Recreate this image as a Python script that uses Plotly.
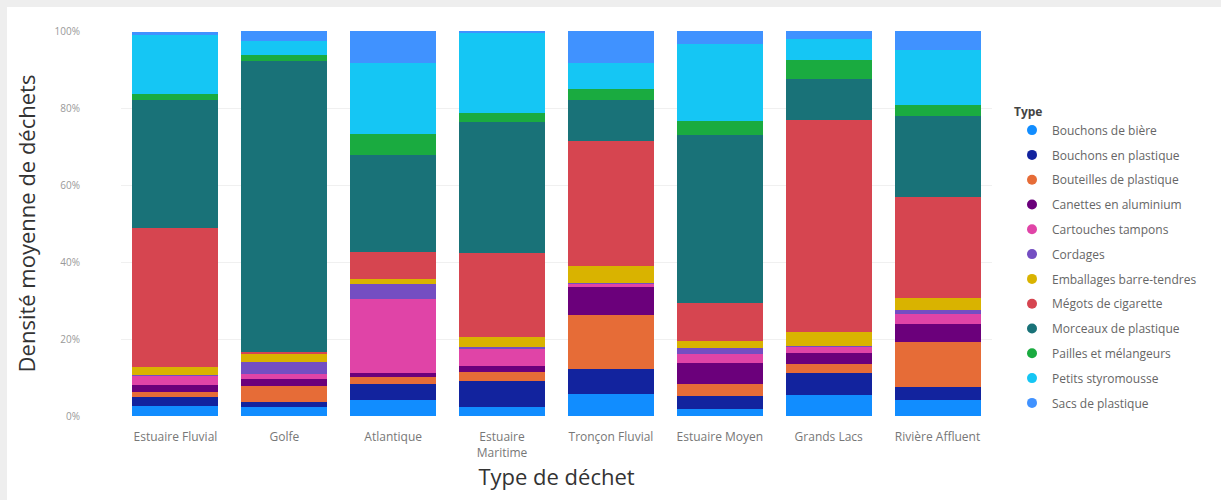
import plotly.graph_objects as go

categories = ["Estuaire Fluvial", "Golfe", "Atlantique", "Estuaire<br>Maritime",
              "Tronçon Fluvial", "Estuaire Moyen", "Grands Lacs", "Rivière Affluent"]

types = ["Bouchons de bière", "Bouchons en plastique", "Bouteilles de plastique",
         "Canettes en aluminium", "Cartouches tampons", "Cordages",
         "Emballages barre-tendres", "Mégots de cigarette", "Morceaux de plastique",
         "Pailles et mélangeurs", "Petits styromousse", "Sacs de plastique"]

colors = ["#118DFF", "#12239E", "#E66C37", "#6B007B", "#E044A7", "#744EC2",
          "#D9B300", "#D64550", "#197278", "#1AAB40", "#15C6F4", "#4092FF"]

y_tickvals = [0, 20, 40, 60, 80, 100]
y_ticktext = ["0%", "20%", "40%", "60%", "80%", "100%"]

# percentage share of each type per category (same order as categories)
bouchons_biere = [2.6, 2.3, 4.1, 2.3, 5.8, 1.9, 5.4, 4.1]
bouchons_plastique = [2.3, 1.3, 4.1, 6.7, 6.5, 3.2, 5.8, 3.5]
bouteilles_plastique = [1.3, 4.2, 2.0, 2.4, 13.9, 3.1, 2.4, 11.7]
canettes_aluminium = [1.9, 1.9, 1.0, 1.7, 7.2, 5.5, 2.8, 4.6]
cartouches_tampons = [2.3, 1.3, 19.1, 4.3, 0.9, 2.4, 1.7, 2.5]
cordages = [0.35, 3.0, 3.9, 0.6, 0.3, 1.6, 0.1, 1.1]
emballages = [1.9, 2.2, 1.3, 2.6, 4.4, 1.9, 3.5, 3.2]
megots = [36.2, 0.4, 7.0, 21.8, 32.4, 9.7, 55.3, 26.1]
morceaux_plastique = [33.1, 75.6, 25.3, 34.0, 10.7, 43.6, 10.6, 21.1]
pailles = [1.7, 1.5, 5.4, 2.3, 2.9, 3.7, 4.8, 2.9]
petits_styromousse = [15.4, 3.7, 18.6, 21.0, 6.8, 19.9, 5.6, 14.3]
sacs_plastique = [0.8, 2.5, 8.2, 0.3, 8.2, 3.4, 2.2, 4.9]

series = [bouchons_biere, bouchons_plastique, bouteilles_plastique, canettes_aluminium,
          cartouches_tampons, cordages, emballages, megots, morceaux_plastique,
          pailles, petits_styromousse, sacs_plastique]

fig = go.Figure()
for name, vals, col in zip(types, series, colors):
    fig.add_trace(go.Bar(x=categories, y=vals, name=name, marker_color=col,
                         marker_line_width=0, showlegend=False, legendgroup=name))
for name, col in zip(types, colors):
    fig.add_trace(go.Scatter(x=[None], y=[None], mode="markers", name=name,
                             legendgroup=name,
                             marker=dict(symbol="circle", size=10, color=col)))

W, H = 1221, 500
L, R, T, B = 121, 229, 31, 84
pw, ph = W - L - R, H - T - B

def px_x(p):
    return (p - L) / pw

def px_y(p):
    return (H - B - p) / ph

fig.add_shape(type="rect", xref="paper", yref="paper", layer="below",
              x0=px_x(7), x1=px_x(W + 10), y0=px_y(H + 10), y1=px_y(7),
              fillcolor="white", line_width=0)

fig.update_layout(
    width=W, height=H,
    margin=dict(l=L, r=R, t=T, b=B),
    barmode="stack", bargap=0.21,
    paper_bgcolor="#eeeeee", plot_bgcolor="white",
    font=dict(family="Open Sans", color="#777777"),
    legend=dict(title=dict(text="<b>Type</b>", font=dict(size=12, color="#444444")),
                font=dict(size=12, color="#666666"),
                x=px_x(1012), xanchor="left", y=px_y(100), yanchor="top",
                traceorder="grouped", tracegroupgap=5.8,
                bgcolor="rgba(0,0,0,0)"),
    xaxis=dict(title=dict(text="Type de déchet", font=dict(size=22, color="#333333"),
                          standoff=8),
               tickfont=dict(size=12, color="#777777"), showgrid=False,
               showline=False, ticks="", ticklabelstandoff=12),
    yaxis=dict(title=dict(text="Densité moyenne de déchets",
                          font=dict(size=22, color="#333333"), standoff=12),
               range=[0, 100], tickvals=y_tickvals, ticktext=y_ticktext,
               tickfont=dict(size=10, color="#999999"), gridcolor="#f0f0f0",
               zeroline=False, showline=False, ticklabelstandoff=40),
)

fig.write_html("out.html")
